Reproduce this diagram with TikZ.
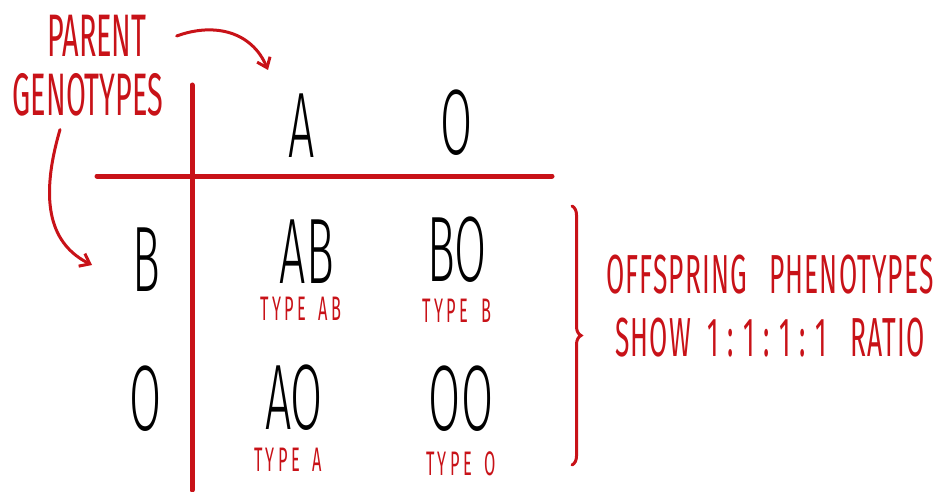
\documentclass[tikz,border=0pt]{standalone}
\usepackage{fontspec}
\usepackage{tikz}
\usetikzlibrary{arrows.meta,positioning,decorations.pathreplacing}
\newfontfamily\hand[FakeStretch=0.5]{Fira Sans Light}
\newfontfamily\handred[FakeStretch=0.48]{Fira Sans}
\definecolor{penred}{RGB}{200, 18, 24}

\begin{document}
\begin{tikzpicture}[x=1pt, y=-1pt, >={Straight Barb[length=9pt,width=14pt]},
  big/.style={inner sep=0pt, font=\hand\fontsize{93}{93}\selectfont},
  typ/.style={inner sep=0pt, text=penred, font=\handred\addfontfeature{LetterSpace=10}\fontsize{34}{34}\selectfont},
  note/.style={inner sep=0pt, text=penred, align=center, font=\handred\fontsize{60}{62}\selectfont},
  grid/.style={draw=penred, line width=5pt, line cap=round},
  pen/.style={draw=penred, line width=3pt, line cap=round}]
  \useasboundingbox (0,0) rectangle (942,492);
  % grid
  \draw[grid] (192,85) -- (192,490);
  \draw[grid] (97,176) -- (552,176);
  % parent alleles
  \node[big] (hA) at (302,126) {A};
  \node[big] (hO) at (457,123) {O};
  \node[big] (rB) at (146,260) {B};
  \node[big] (rO) at (146,399) {O};
  % offspring
  \node[big] (cAB) at (307,252) {AB};
  \node[big] (cBO) at (457,250) {BO};
  \node[big] (cAO) at (294,398) {AO};
  \node[big] (cOO) at (461,399) {OO};
  \node[typ, below=13pt of cAB, xshift=-6pt] (tAB) {TYPE\hspace{5pt} AB};
  \node[typ, below=16pt of cBO] (tB) {TYPE\hspace{5pt} B};
  \node[typ, below=17pt of cAO, xshift=-6pt] (tA) {TYPE\hspace{5pt} A};
  \node[typ, below=19pt of cOO] (tO) {TYPE\hspace{5pt} O};
  % labels
  \node[note] (par) at (97,36) {PARENT};
  \node[note] (gen) at (88,95) {GENOTYPES};
  \coordinate (tipA) at (268,70);
  \coordinate (tipB) at (92,265);
  \draw[pen, ->] ([xshift=30pt]par.east) .. controls (215,22) and (252,32) .. (tipA);
  \draw[pen, ->] ([xshift=-28pt,yshift=-13pt]gen.south) .. controls (38,205) and (52,245) .. (tipB);
  \coordinate (brtop) at (572,206);
  \coordinate (brbot) at (572,465);
  \draw[pen, decorate, decoration={brace, amplitude=9pt}] (brtop) -- (brbot);
  \node[note, font=\handred\addfontfeature{LetterSpace=2}\fontsize{55}{63}\selectfont] (offs) at (770,306)
    {OFFSPRING\hspace{14pt} PHENOTYPES\\SHOW\hspace{8pt} 1\,:\,1\,:\,1\,:\,1\hspace{16pt} RATIO};
\end{tikzpicture}
\end{document}
